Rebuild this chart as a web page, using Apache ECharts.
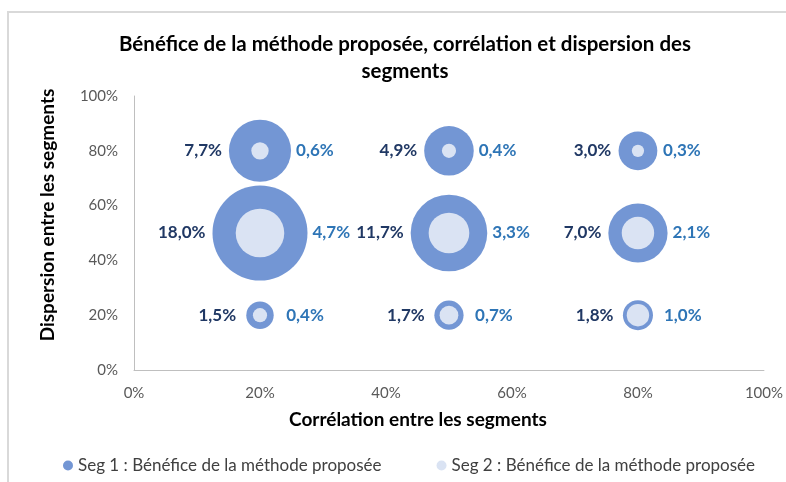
<!DOCTYPE html>
<html>
<head>
<meta charset="utf-8">
<script src="https://cdn.jsdelivr.net/npm/echarts@6/dist/echarts.min.js"></script>
<style>
  html, body { margin: 0; padding: 0; background: #fff; }
  #chart { width: 786px; height: 482px; }
</style>
</head>
<body>
<div id="chart"></div>
<script>
// Grid positions (correlation %, dispersion %)
const correlation = [20, 20, 20, 50, 50, 50, 80, 80, 80];
const dispersion  = [80, 50, 20, 80, 50, 20, 80, 50, 20];
// Benefit of the proposed method, in %
const seg1Benefit = [7.7, 18.0, 1.5, 4.9, 11.7, 1.7, 3.0, 7.0, 1.8];
const seg2Benefit = [0.6, 4.7, 0.4, 0.4, 3.3, 0.7, 0.3, 2.1, 1.0];
const axisTicks = [0, 20, 40, 60, 80, 100];
const seriesNames = ['Seg 1 : Bénéfice de la méthode proposée', 'Seg 2 : Bénéfice de la méthode proposée'];

const FONT = 'Lato, "Noto Sans", sans-serif';
const MAX_DIAM = 95;                       // bubble diameter of the largest value
const maxValue = Math.max(...seg1Benefit);
const diam = v => MAX_DIAM * Math.sqrt(v / maxValue);   // area-proportional bubbles
const fmt = v => v.toFixed(1).replace('.', ',') + '%';
// small bubbles get their labels pushed a little further out
const extraGap = (r, k) => Math.max(0, 20 - r) * k;

const seg1Data = seg1Benefit.map((v, i) => ({
  value: [correlation[i], dispersion[i], v],
  label: { distance: 7 + extraGap(diam(v) / 2, 0.5) }
}));
const seg2Data = seg2Benefit.map((v, i) => {
  const outerR = diam(seg1Benefit[i]) / 2;
  return {
    value: [correlation[i], dispersion[i], v],
    // put the label just outside the surrounding Seg 1 bubble
    label: { distance: outerR - diam(v) / 2 + 5 + extraGap(outerR, 1.2) }
  };
});

const chart = echarts.init(document.getElementById('chart'), null, { renderer: 'canvas' });
chart.setOption({
  animation: false,
  backgroundColor: '#fff',
  graphic: [{
    type: 'rect', silent: true, z: -10,
    shape: { x: 8, y: 12, width: 800, height: 500 },
    style: { fill: 'none', stroke: '#d9d9d9', lineWidth: 2 }
  }],
  title: {
    text: 'Bénéfice de la méthode proposée, corrélation et dispersion des\nsegments',
    left: 400, textAlign: 'center', top: 26,
    textStyle: { fontFamily: FONT, fontSize: 20.5, fontWeight: 'bold', color: '#000', lineHeight: 27 }
  },
  legend: {
    data: seriesNames,
    left: 58, top: 452, itemWidth: 10, itemHeight: 10, itemGap: 55, icon: 'circle',
    textStyle: { fontFamily: FONT, fontSize: 17, color: '#404040' }
  },
  grid: { left: 134, right: 20, top: 96, bottom: 112 },
  xAxis: {
    type: 'value', min: axisTicks[0], max: axisTicks[axisTicks.length - 1], interval: 20,
    name: 'Corrélation entre les segments', nameLocation: 'middle', nameGap: 40,
    nameTextStyle: { fontFamily: FONT, fontSize: 19, fontWeight: 'bold', color: '#000', padding: [0, 62, 0, 0] },
    axisLine: { show: true, lineStyle: { color: '#bfbfbf', width: 1 } },
    axisTick: { show: false }, splitLine: { show: false },
    axisLabel: { margin: 16, fontFamily: FONT, fontSize: 15, color: '#595959', formatter: v => v + '%' }
  },
  yAxis: {
    type: 'value', min: axisTicks[0], max: axisTicks[axisTicks.length - 1], interval: 20,
    name: 'Dispersion entre les segments', nameLocation: 'middle', nameGap: 77,
    nameTextStyle: { fontFamily: FONT, fontSize: 19, fontWeight: 'bold', color: '#000', padding: [0, 0, 0, 36] },
    axisLine: { show: true, lineStyle: { color: '#bfbfbf', width: 1 } },
    axisTick: { show: false }, splitLine: { show: false },
    axisLabel: { margin: 16, fontFamily: FONT, fontSize: 15, color: '#595959', formatter: v => v + '%' }
  },
  series: [{
    name: seriesNames[0], type: 'scatter', z: 2,
    data: seg1Data,
    symbolSize: d => diam(d[2]),
    itemStyle: { color: '#7396d4', opacity: 1 },
    label: {
      show: true, position: 'left',
      formatter: p => fmt(p.value[2]),
      fontFamily: FONT, fontSize: 17, fontWeight: 'bold', color: '#203864'
    },
    emphasis: { disabled: true }
  }, {
    name: seriesNames[1], type: 'scatter', z: 3,
    data: seg2Data,
    symbolSize: d => diam(d[2]),
    itemStyle: { color: '#dae3f3', opacity: 1 },
    label: {
      show: true, position: 'right',
      formatter: p => fmt(p.value[2]),
      fontFamily: FONT, fontSize: 17, fontWeight: 'bold', color: '#2e75b6'
    },
    emphasis: { disabled: true }
  }]
});
</script>
</body>
</html>
